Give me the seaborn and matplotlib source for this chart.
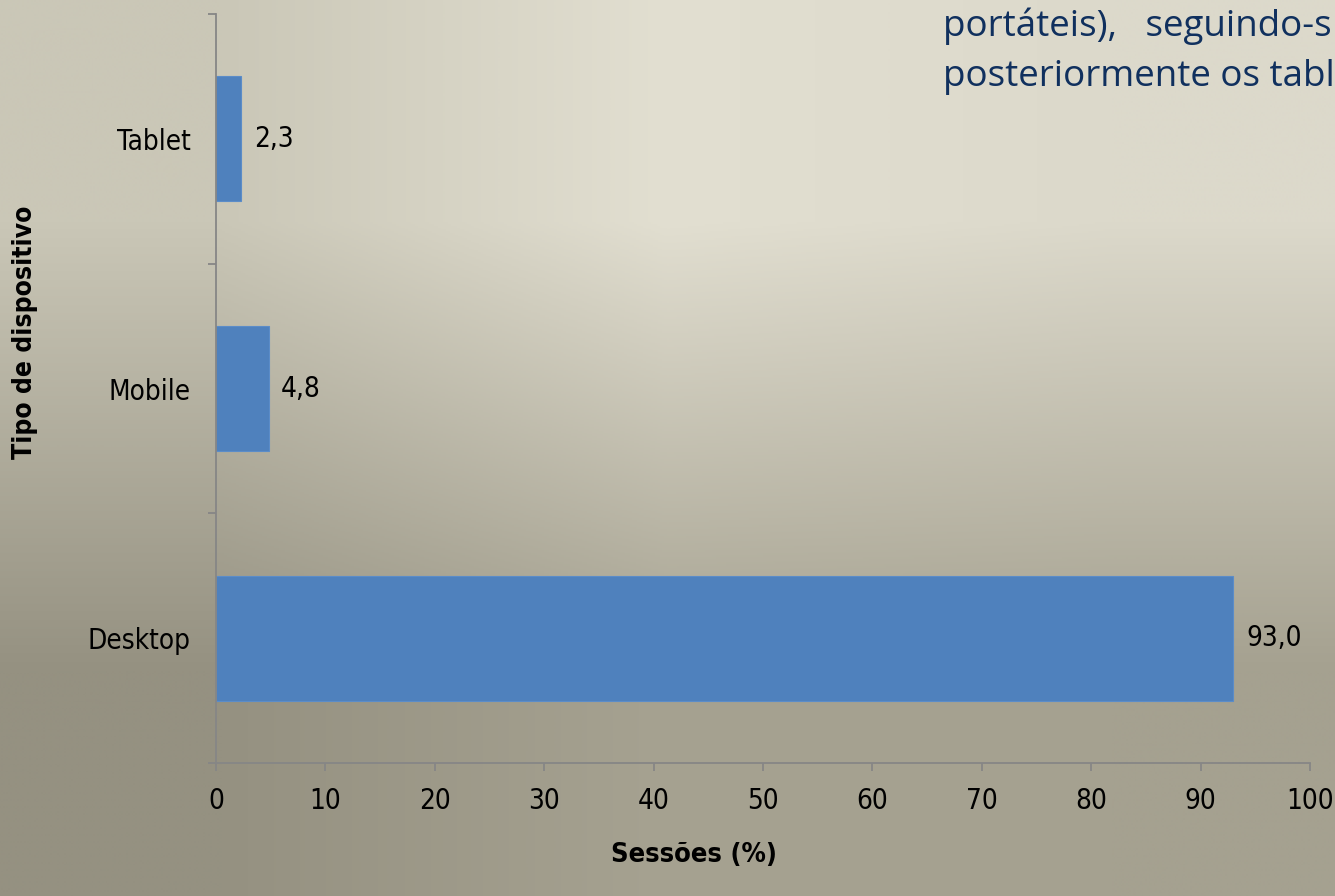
import numpy as np
import pandas as pd
import matplotlib
matplotlib.use("Agg")
import matplotlib.pyplot as plt
from matplotlib.colors import to_rgb
import seaborn as sns

# data
devices = ["Tablet", "Mobile", "Desktop"]
sessions = [2.3, 4.8, 93.0]
value_labels = ["2,3", "4,8", "93,0"]
x_ticks = [0, 10, 20, 30, 40, 50, 60, 70, 80, 90, 100]

df = pd.DataFrame({"device": devices, "sessions": sessions})

sns.set_style("ticks")
plt.rcParams["font.family"] = ["DejaVu Sans"]
plt.rcParams["font.stretch"] = "condensed"

fig = plt.figure(figsize=(13.35, 8.96), dpi=100)

# gradient background over the whole figure
bg_top = ["#cac7b7", "#e2dfd1", "#dcd9cb"]
bg_bot = ["#959181", "#a6a291", "#a5a190"]
grad = np.array([[to_rgb(c) for c in bg_top], [to_rgb(c) for c in bg_bot]])
bg = fig.add_axes([0, 0, 1, 1], zorder=-10)
bg.imshow(grad, aspect="auto", interpolation="bilinear", extent=[0, 1, 0, 1])
bg.axis("off")

ax = fig.add_axes([216 / 1335, 133 / 896, 1094 / 1335, 749 / 896])
ax.patch.set_alpha(0)

sns.barplot(data=df, x="sessions", y="device", orient="h", color="#4f81bd",
            width=0.5, saturation=1, edgecolor="#5b8cc8", linewidth=0.8, ax=ax)

for i, lab in enumerate(value_labels):
    ax.annotate(lab, (sessions[i], i), xytext=(9, 0), textcoords="offset points",
                va="center", ha="left", fontsize=20, color="black")

ax.set_xlim(0, 100)
ax.set_ylim(2.5, -0.5)
ax.set_xticks(x_ticks)
ax.set_xticklabels([str(t) for t in x_ticks], fontsize=20, color="black")
ax.set_yticks([-0.5, 0.5, 1.5, 2.5])
ax.set_yticklabels([])
ax.set_yticks([0, 1, 2], minor=True)
ax.set_yticklabels(devices, minor=True, fontsize=20, color="black")
ax.tick_params(axis="y", which="minor", length=0, pad=18)
ax.tick_params(axis="both", which="major", length=6, width=1.3, color="#868686")
ax.tick_params(axis="x", pad=11)
ax.set_xlabel("")
ax.set_ylabel("")

sns.despine(ax=ax)
for s in ["left", "bottom"]:
    ax.spines[s].set_color("#868686")
    ax.spines[s].set_linewidth(1.3)

fig.text(694 / 1335, 1 - 855 / 896, "Sessões (%)", ha="center", va="center",
         fontsize=19.5, fontweight="bold", color="black")
fig.text(25 / 1335, 1 - 332 / 896, "Tipo de dispositivo", ha="center", va="center",
         rotation=90, fontsize=19, fontweight="bold", color="black")

# paragraph text in the top right corner (only the part visible in the original)
fig.text(943 / 1335, 1 - 26 / 896, "portáteis),   seguindo-s", ha="left", va="center",
         fontsize=26.5, color="#10305e", family="Open Sans", fontstretch="normal")
fig.text(943 / 1335, 1 - 77 / 896, "posteriormente os tabl", ha="left", va="center",
         fontsize=26.5, color="#10305e", family="Open Sans", fontstretch="normal")

fig.savefig("out.png", dpi=100)
